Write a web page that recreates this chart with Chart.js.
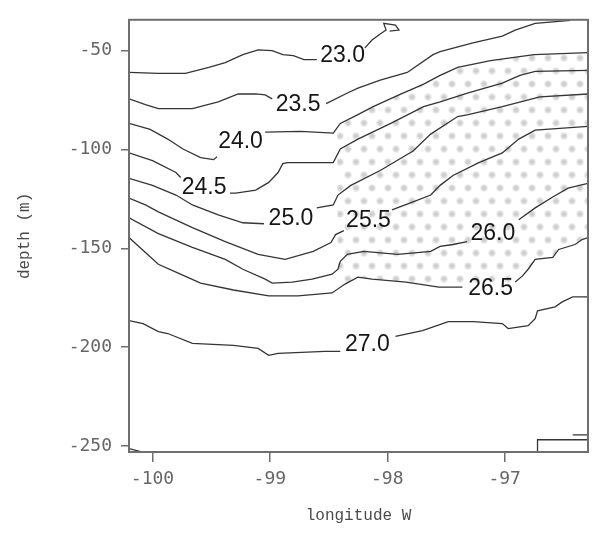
<!DOCTYPE html>
<html>
<head>
<meta charset="utf-8">
<script src="https://cdn.jsdelivr.net/npm/chart.js@4.4.1/dist/chart.umd.min.js"></script>
<style>
  html, body { margin: 0; padding: 0; background: #fff; }
  #wrap { width: 593px; height: 544px; }
</style>
</head>
<body>
<div id="wrap"><canvas id="chart" width="593" height="544"></canvas></div>
<script>
// --- data (longitude W, depth m) ---
const xTicks = [-100, -99, -98, -97];
const yTicks = [-250, -200, -150, -100, -50];

const lon_23_0 = [-100.2, -99.95, -99.72, -99.52, -99.38, -99.23, -99.10, -98.98, -98.89, -98.80, -98.71, -98.60, null, -98.19, -98.13, -98.06, -98.01, -98.03, -97.93, -97.90, -97.98];
const dep_23_0 = [-61.1, -61.6, -61.6, -58.6, -56.1, -52.1, -49.7, -50.1, -52.1, -52.6, -54.6, -54.6, null, -48.7, -44.7, -41.7, -39.7, -36.3, -37.2, -39.7, -40.2];

const lon_23_5 = [-100.2, -100.06, -99.95, -99.66, -99.44, -99.27, -99.12, -99.04, -98.98, null, -98.52, -98.34, -98.25, -98.06, -97.83, -97.61, -97.55, -97.27, -97.02, -96.91, -96.74, -96.44];
const dep_23_5 = [-74.5, -77.4, -79.4, -79.4, -76.0, -72.0, -72.0, -72.5, -74.5, null, -76.9, -71.5, -69.0, -65.0, -61.1, -52.1, -50.6, -46.2, -42.7, -39.7, -36.3, -34.8];

const lon_24_0 = [-100.2, -100.02, -99.87, -99.74, -99.59, -99.48, -99.45, null, -99.04, -98.74, -98.46, -98.40, -98.25, -98.12, -97.90, -97.69, -97.55, -97.40, -97.12, -96.75, -96.29];
const dep_24_0 = [-86.9, -89.9, -94.8, -99.8, -104.2, -105.2, -103.7, null, -91.3, -90.9, -91.8, -86.9, -82.4, -78.4, -72.5, -67.0, -62.6, -58.6, -55.1, -52.1, -51.1];

const lon_24_5 = [-100.2, -100.00, -99.80, -99.76, null, -99.34, -99.29, -99.12, -99.01, -98.93, -98.89, -98.85, -98.46, -98.40, -98.25, -97.97, -97.69, -97.55, -97.31, -97.02, -96.87, -96.74, -96.29];
const dep_24_5 = [-101.8, -105.7, -111.7, -114.2, null, -122.1, -122.1, -120.6, -116.7, -111.7, -107.2, -106.7, -106.7, -99.8, -94.8, -86.9, -78.4, -76.0, -71.5, -66.5, -62.6, -60.6, -60.1];

const lon_25_0 = [-100.2, -100.00, -99.80, -99.66, -99.44, -99.23, -99.05, null, -98.60, -98.46, -98.42, -98.31, -98.06, -97.78, -97.63, -97.40, -97.31, -97.02, -96.70, -96.29];
const dep_25_0 = [-114.7, -118.2, -123.1, -128.1, -133.1, -137.1, -137.6, null, -129.6, -128.1, -123.1, -118.2, -110.7, -100.8, -92.3, -83.4, -82.4, -78.4, -73.5, -72.0];

const lon_25_5 = [-100.2, -100.06, -99.95, -99.66, -99.38, -99.10, -98.87, -98.63, -98.48, -98.44, -98.37, null, -97.96, -97.78, -97.63, -97.55, -97.44, -97.22, -97.02, -96.88, -96.74, -96.29];
const dep_25_5 = [-124.6, -128.1, -131.6, -139.6, -146.6, -153.1, -155.6, -151.6, -147.1, -143.1, -141.1, null, -130.6, -126.6, -123.1, -118.2, -113.2, -106.7, -101.8, -94.8, -90.3, -88.4];

const lon_26_0 = [-100.2, -99.95, -99.66, -99.38, -99.23, -99.04, -98.98, -98.81, -98.64, -98.47, -98.42, -98.40, -98.34, -98.20, -97.91, -97.63, -97.55, -97.44, -97.32, null, -96.88, -96.74, -96.59, -96.46, -96.29];
const dep_26_0 = [-134.6, -142.6, -149.6, -155.6, -160.6, -165.6, -167.6, -167.1, -165.6, -163.1, -160.6, -156.6, -153.1, -151.6, -153.1, -151.6, -149.1, -148.1, -146.6, null, -135.6, -129.6, -124.1, -119.6, -117.2];

const lon_26_5 = [-100.2, -100.06, -99.95, -99.80, -99.59, -99.31, -99.01, -98.76, -98.47, -98.36, -98.25, -98.13, -97.84, -97.56, -97.36, null, -96.91, -96.85, -96.80, -96.74, -96.59, -96.54, -96.40, -96.34, -96.29];
const dep_26_5 = [-144.6, -152.1, -158.1, -162.1, -167.6, -171.1, -174.1, -174.1, -172.6, -168.1, -164.6, -165.6, -167.1, -169.6, -169.6, null, -167.1, -164.1, -160.6, -155.6, -154.6, -150.6, -148.1, -145.6, -144.6];

const lon_27_0 = [-100.2, -100.08, -99.95, -99.87, -99.66, -99.31, -99.10, -99.01, -98.93, -98.53, -98.40, null, -97.93, -97.70, -97.48, -97.27, -97.02, -96.97, -96.80, -96.74, -96.72, -96.57, -96.51, -96.42, -96.29];
const dep_27_0 = [-186.6, -188.1, -192.1, -193.1, -198.1, -199.1, -200.6, -204.1, -203.1, -202.1, -202.1, null, -194.6, -191.6, -187.1, -187.1, -188.1, -190.6, -189.1, -185.6, -181.6, -179.6, -177.1, -174.6, -174.6];

// little closed bits in the bottom corners
const lon_corner = [-96.72, -96.72, -96.29, null, -96.42, -96.29, null, -100.2, -100.10, -100.05];
const dep_corner = [-253, -246.8, -246.8, null, -244.3, -244.3, null, -251.3, -252.8, -253];

// contour labels
const levels = ['23.0', '23.5', '24.0', '24.5', '25.0', '25.5', '26.0', '26.5', '27.0'];
const labelLon = [-98.38, -98.76, -99.25, -99.56, -98.82, -98.16, -97.10, -97.12, -98.17];
const labelDepth = [-52.6, -77.4, -96.3, -119.6, -135.1, -136.1, -142.5, -170.6, -198.6];

// stippled area
const shadeLon = [-98.43, -98.40, -98.25, -98.12, -97.90, -97.69, -97.55, -97.40, -97.12, -96.75, -96.29, -96.29, -96.34, -96.40, -96.54, -96.59, -96.74, -96.80, -96.85, -96.91, -97.12, -97.36, -97.56, -97.84, -98.13, -98.25, -98.36, -98.42];
const shadeDepth = [-91.8, -86.9, -82.4, -78.4, -72.5, -67.0, -62.6, -58.6, -55.1, -52.1, -51.1, -144.6, -145.6, -148.1, -150.6, -154.6, -155.6, -160.6, -164.1, -167.1, -169.6, -169.6, -169.6, -167.1, -165.6, -164.6, -168.1, -167.6];

const contours = [
    [lon_23_0, dep_23_0], [lon_23_5, dep_23_5], [lon_24_0, dep_24_0],
    [lon_24_5, dep_24_5], [lon_25_0, dep_25_0], [lon_25_5, dep_25_5],
    [lon_26_0, dep_26_0], [lon_26_5, dep_26_5], [lon_27_0, dep_27_0],
    [lon_corner, dep_corner]
];

const frameColor = '#6e6e6e';

function toPoints(lons, deps) {
    return lons.map((x, i) => ({ x: x, y: deps[i] }));
}

// grey dot texture for the shaded band
function makeStipple(ctx) {
    const c = document.createElement('canvas');
    c.width = 16; c.height = 26;
    const g = c.getContext('2d');
    [[4, 6], [12, 19]].forEach(([x, y]) => {
        const grad = g.createRadialGradient(x, y, 0, x, y, 4.6);
        grad.addColorStop(0, 'rgba(170,170,170,0.7)');
        grad.addColorStop(0.55, 'rgba(185,185,185,0.5)');
        grad.addColorStop(1, 'rgba(215,215,215,0)');
        g.fillStyle = grad;
        g.beginPath(); g.arc(x, y, 4.6, 0, Math.PI * 2); g.fill();
    });
    return ctx.createPattern(c, 'repeat');
}

const shadePlugin = {
    id: 'shade',
    beforeDatasetsDraw(chart) {
        const { ctx, scales: { x, y }, chartArea } = chart;
        ctx.save();
        ctx.beginPath();
        ctx.rect(chartArea.left, chartArea.top, chartArea.width, chartArea.height);
        ctx.clip();
        ctx.beginPath();
        shadeLon.forEach((lon, i) => {
            const px = x.getPixelForValue(lon), py = y.getPixelForValue(shadeDepth[i]);
            if (i === 0) ctx.moveTo(px, py); else ctx.lineTo(px, py);
        });
        ctx.closePath();
        ctx.fillStyle = makeStipple(ctx);
        ctx.fill();
        ctx.restore();
    }
};

const labelPlugin = {
    id: 'contourLabels',
    afterDatasetsDraw(chart) {
        const { ctx, scales: { x, y } } = chart;
        ctx.save();
        ctx.font = '23px "Liberation Sans", Arial, sans-serif';
        ctx.fillStyle = '#161616';
        ctx.textAlign = 'center';
        ctx.textBaseline = 'middle';
        levels.forEach((t, i) => {
            ctx.fillText(t, x.getPixelForValue(labelLon[i]), y.getPixelForValue(labelDepth[i]));
        });
        ctx.restore();
    }
};

const framePlugin = {
    id: 'frame',
    afterDatasetsDraw(chart) {
        const { ctx, chartArea: a } = chart;
        ctx.save();
        ctx.strokeStyle = frameColor;
        ctx.lineWidth = 2;
        ctx.strokeRect(a.left, a.top, a.right - a.left, a.bottom - a.top);
        ctx.restore();
    }
};

new Chart(document.getElementById('chart'), {
    type: 'scatter',
    data: {
        datasets: contours.map(([lons, deps]) => ({
            data: toPoints(lons, deps),
            showLine: true,
            spanGaps: false,
            borderColor: '#353535',
            borderWidth: 1.3,
            pointRadius: 0,
            tension: 0,
            fill: false
        }))
    },
    options: {
        responsive: false,
        animation: false,
        layout: { padding: { top: 10, right: 5, left: 0, bottom: 0 } },
        plugins: { legend: { display: false }, tooltip: { enabled: false } },
        scales: {
            x: {
                type: 'linear',
                min: -100.2, max: -96.29,
                afterBuildTicks: s => { s.ticks = xTicks.map(v => ({ value: v })); },
                afterFit: s => { s.height = 92; },
                grid: { drawOnChartArea: false, drawTicks: true, tickLength: 10, color: frameColor, lineWidth: 1.5 },
                border: { display: false },
                ticks: {
                    padding: 7, color: '#666666',
                    font: { family: '"DejaVu Sans Mono", monospace', size: 18 },
                    callback: v => String(v)
                },
                title: {
                    display: true, text: 'longitude W', color: '#4a4a4a',
                    font: { family: '"Liberation Mono", "Courier New", monospace', size: 16 },
                    padding: { top: 0, bottom: 19 }
                }
            },
            y: {
                type: 'linear',
                min: -253, max: -34.5,
                afterBuildTicks: s => { s.ticks = yTicks.map(v => ({ value: v })); },
                afterFit: s => { s.width = 129; },
                grid: { drawOnChartArea: false, drawTicks: true, tickLength: 8, color: frameColor, lineWidth: 1.5 },
                border: { display: false },
                ticks: {
                    padding: 9, color: '#666666',
                    font: { family: '"DejaVu Sans Mono", monospace', size: 18 },
                    callback: v => String(v)
                },
                title: {
                    display: true, text: 'depth (m)', color: '#4a4a4a',
                    font: { family: '"Liberation Mono", "Courier New", monospace', size: 16 },
                    padding: { top: 15, bottom: 0 }
                }
            }
        }
    },
    plugins: [shadePlugin, labelPlugin, framePlugin]
});
</script>
</body>
</html>
